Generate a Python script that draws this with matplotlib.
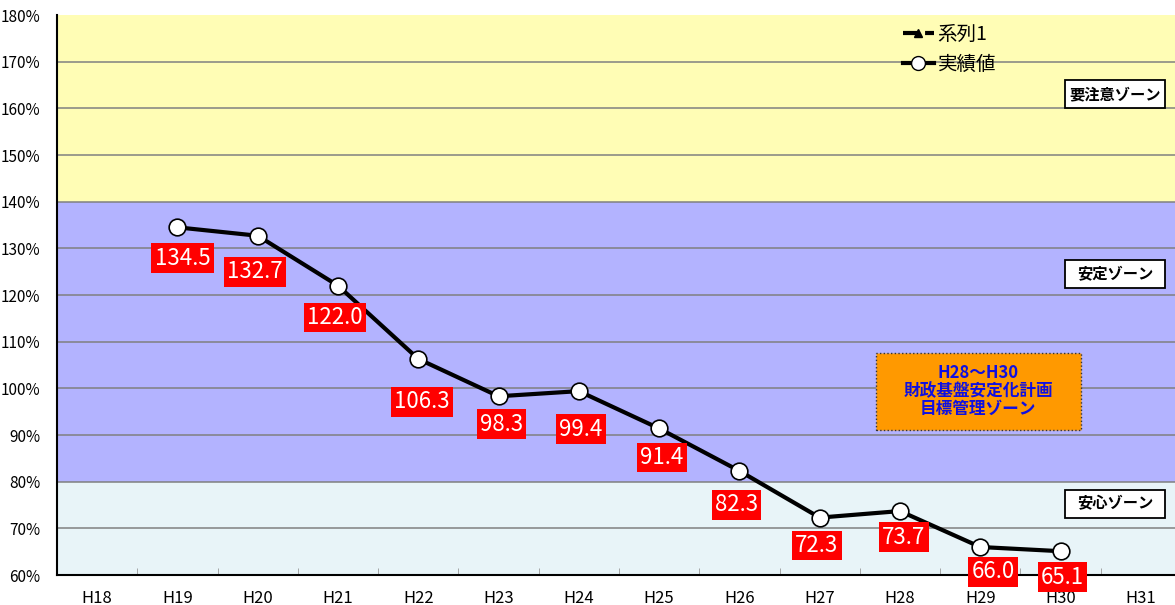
import numpy as np
import matplotlib.pyplot as plt
from matplotlib.lines import Line2D
from matplotlib.patches import Rectangle

plt.rcParams['font.family'] = ['Noto Sans CJK JP', 'DejaVu Sans']

# ---------------------------------------------
# Dados
# ---------------------------------------------
anos = ['H18', 'H19', 'H20', 'H21', 'H22', 'H23', 'H24',
        'H25', 'H26', 'H27', 'H28', 'H29', 'H30', 'H31']
anos_valores = ['H19', 'H20', 'H21', 'H22', 'H23', 'H24',
                'H25', 'H26', 'H27', 'H28', 'H29', 'H30']
valores = [134.5, 132.7, 122.0, 106.3, 98.3, 99.4,
           91.4, 82.3, 72.3, 73.7, 66.0, 65.1]

zonas = [(140, 180, '#FFFDB5'), (80, 140, '#B3B3FF'), (60, 80, '#E8F4F8')]
zona_textos = [('要注意ゾーン', 163.1), ('安定ゾーン', 124.5), ('安心ゾーン', 75.3)]

# deslocamento dos rótulos (pixels)
rot_dx = [5, -3, -3, 4, 3, 2, 3, -3, -3, 4, 13, 2]
rot_dy = [-31, -36, -32, -43, -28, -38, -29, -34, -28, -26, -25, -26]

# ---------------------------------------------
# Gráfico
# ---------------------------------------------
W, H = 1175, 605
fig = plt.figure(figsize=(W / 100, H / 100), dpi=100)
x0, x1, y_top, y_bot = 57, 1181, 15, 575
ax = fig.add_axes([x0 / W, 1 - y_bot / H, (x1 - x0) / W, (y_bot - y_top) / H])

ax.set_xlim(-0.5, len(anos) - 0.5)
ax.set_ylim(60, 180)

for lo, hi, cor in zonas:
    ax.axhspan(lo, hi, color=cor, zorder=0, lw=0)
for v in range(70, 180, 10):
    ax.axhline(v, color='#808080', lw=1.1, zorder=1)

xs = [anos.index(a) for a in anos_valores]
ax.plot(xs, valores, '-o', color='black', lw=3, ms=12,
        mfc='white', mec='black', mew=1.2, zorder=5)

for xv, v, dx, dy in zip(xs, valores, rot_dx, rot_dy):
    ax.annotate(f'{v:.1f}', (xv, v), xytext=(dx * 0.72, dy * 0.72),
                textcoords='offset points', ha='center', va='center',
                color='white', fontsize=16,
                bbox=dict(boxstyle='square,pad=0.15', fc='#FF0000', ec='none'),
                zorder=6, annotation_clip=False)

# caixas das zonas (largura fixa)
tr = ax.get_yaxis_transform()
bx0, bx1 = (1065 - x0) / (x1 - x0), (1165 - x0) / (x1 - x0)
for txt, yv in zona_textos:
    ax.add_patch(Rectangle((bx0, yv - 3.0), bx1 - bx0, 6.0, transform=tr,
                           fc='white', ec='black', lw=1.3, zorder=7))
    ax.text((bx0 + bx1) / 2, yv, txt, transform=tr, ha='center',
            va='center', fontsize=11, fontweight='bold', color='black', zorder=8)

ax.add_patch(Rectangle((9.70, 91.1), 2.55, 16.5, fc='#FF9900', ec='#333333',
                       ls=':', lw=1, zorder=7))
ax.text(10.975, 99.4, 'H28～H30\n財政基盤安定化計画\n目標管理ゾーン', ha='center',
        va='center', fontsize=12, fontweight='bold', color='#1010E0',
        linespacing=1.0, zorder=8)

ax.set_yticks(range(60, 181, 10))
ax.set_yticklabels([f'{v}%' for v in range(60, 181, 10)], fontsize=11)
ax.set_xticks(range(len(anos)))
ax.set_xticklabels(anos, fontsize=12)
ax.set_xticks(np.arange(0.5, len(anos) - 0.5, 1), minor=True)
ax.tick_params(axis='x', which='major', length=0, pad=11)
ax.tick_params(axis='x', which='minor', length=5, direction='in', color='#999999')
ax.tick_params(axis='y', length=0, pad=12)

for s in ['top', 'right']:
    ax.spines[s].set_visible(False)
ax.spines['left'].set_linewidth(1.5)
ax.spines['bottom'].set_linewidth(1.5)

handles = [Line2D([], [], color='black', ls='--', lw=3, marker='^', ms=6),
           Line2D([], [], color='black', lw=3, marker='o', ms=10, mfc='white')]
ax.legend(handles, ['系列1', '実績値'], loc='upper left',
          bbox_to_anchor=((885 - x0) / (x1 - x0), 1.015), frameon=False,
          fontsize=14, handlelength=1.6, handletextpad=0.2, labelspacing=0.45)

fig.savefig('out.png', dpi=100)
